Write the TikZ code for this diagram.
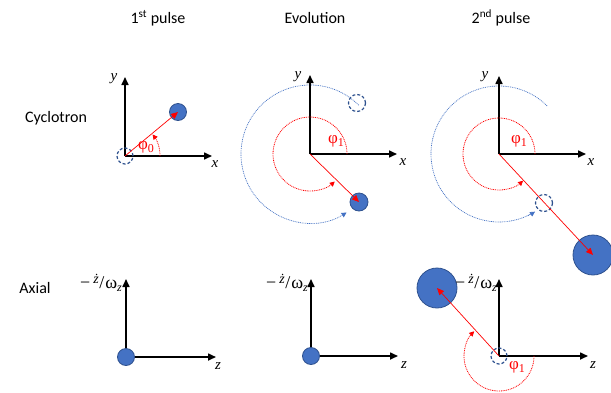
\documentclass[tikz,border=0pt]{standalone}
\usepackage{fontspec}
\setmainfont{Carlito}
\newfontfamily\grk{Liberation Serif}
\usetikzlibrary{arrows.meta}
\definecolor{bfill}{HTML}{4472C4}
\definecolor{bdraw}{HTML}{2F528F}
\definecolor{bdot}{HTML}{4472C4}
\newcommand{\zlab}{{\fontsize{18}{18}\selectfont\grk −\hspace{3pt}\raisebox{5pt}{\fontsize{14}{14}\selectfont\itshape ż}\kern0.5pt/\hspace{1pt}ω\raisebox{-3pt}{\fontsize{12}{12}\selectfont\itshape z}}}
\newcommand{\phisub}[1]{{\fontsize{17}{17}\selectfont\grk φ\raisebox{-3pt}{\fontsize{12}{12}\selectfont #1}}}
\begin{document}
\begin{tikzpicture}[x=1pt,y=1pt,
  axis/.style={line width=1.6pt,-{Triangle[length=8pt,width=7pt]}},
  ball/.style={circle,fill=bfill,draw=bdraw,line width=0.8pt,inner sep=0pt},
  ghost/.style={circle,draw=bdraw,line width=1.2pt,inner sep=0pt,dash pattern=on 3pt off 2pt},
  vec/.style={red,line width=0.7pt,-{Triangle[length=7pt,width=6pt]}},
  rarc/.style={red,line width=0.8pt,dash pattern=on 0.9pt off 0.9pt,-{Triangle[length=5pt,width=5pt]}},
  bdotted/.style={bdot,line width=0.7pt,dash pattern=on 0.9pt off 0.9pt},
  barc/.style={bdotted,-{Triangle[length=5pt,width=5pt]}},
  title/.style={font=\fontsize{16}{18}\selectfont,inner sep=0pt},
  lab/.style={font=\fontsize{15}{15}\selectfont\grk\itshape,inner sep=0pt},
  phil/.style={red,inner sep=0pt},
  zl/.style={inner sep=0pt,anchor=east}
]
\useasboundingbox (0,0) rectangle (611,-392);
\fill[white] (0,0) rectangle (611,-392);

% titles
\node[title] (t1) at (158,-18) {1\textsuperscript{st} pulse};
\node[title] (t2) at (315,-18) {Evolution};
\node[title] (t3) at (501,-18) {2\textsuperscript{nd} pulse};
\node[title] (r1) at (56,-118) {Cyclotron};
\node[title] (r2) at (35,-288) {Axial};

% ---------- cyclotron, 1st pulse
\coordinate (O1) at (125,-156);
\coordinate (Y1) at (125,-77);
\coordinate (X1) at (212,-156);
\draw[axis] (O1) -- (Y1);
\draw[axis] (O1) -- (X1);
\node[lab] (y1) at (114,-79) {y};
\node[lab] (x1) at (215,-164) {x};
\draw[rarc] (O1) ++(0:35) arc[start angle=0,end angle=38,radius=35];
\node[ghost,minimum size=16pt] (G1) at (O1) {};
\node[ball,minimum size=17pt] (P1) at (178,-112) {};
\draw[vec] (O1) -- (P1.center);
\node[phil] (f0) at (146,-147) {\phisub{0}};

% ---------- cyclotron, evolution
\coordinate (O2) at (310,-154);
\coordinate (Y2) at (310,-75);
\coordinate (X2) at (397,-154);
\draw[barc] (O2) ++(45:69) arc[start angle=45,end angle=302,radius=69];
\draw[axis] (O2) -- (Y2);
\draw[axis] (O2) -- (X2);
\node[lab] (y2) at (298,-77) {y};
\node[lab] (x2) at (403,-162) {x};
\draw[rarc] (O2) ++(0:37) arc[start angle=0,end angle=312,radius=37];
\node[ghost,minimum size=17pt] (G2) at (357,-103) {};
\node[ball,minimum size=18pt] (P2) at (359,-202) {};
\draw[vec] (O2) -- (P2.center);
\node[phil] (f1a) at (336,-141) {\phisub{1}};

% ---------- cyclotron, 2nd pulse
\coordinate (O3) at (499,-154);
\coordinate (Y3) at (499,-76);
\coordinate (X3) at (586,-154);
\draw[bdotted] (O3) ++(45:68) arc[start angle=45,end angle=300,radius=68];
\draw[barc] (O3) ++(295:68) arc[start angle=295,end angle=302,radius=68];
\draw[axis] (O3) -- (Y3);
\draw[axis] (O3) -- (X3);
\node[lab] (y3) at (485,-77) {y};
\node[lab] (x3) at (591,-162) {x};
\draw[rarc] (O3) ++(0:36) arc[start angle=0,end angle=312,radius=36];
\node[ghost,minimum size=17pt] (G3) at (544,-203) {};
\node[ball,minimum size=40pt] (P3) at (593,-255) {};
\draw[vec] (O3) -- (P3.center);
\node[phil] (f1b) at (519,-141) {\phisub{1}};

% ---------- axial, 1st pulse
\coordinate (A1) at (126,-357);
\coordinate (AY1) at (126,-279);
\coordinate (AX1) at (216,-357);
\draw[axis] (A1) -- (AY1);
\draw[axis] (A1) -- (AX1);
\node[zl] (zl1) at (122,-283) {\zlab};
\node[lab] (z1) at (218,-366) {z};
\node[ball,minimum size=17pt] (Q1) at (A1) {};

% ---------- axial, evolution
\coordinate (A2) at (311,-356);
\coordinate (AY2) at (311,-279);
\coordinate (AX2) at (398,-356);
\draw[axis] (A2) -- (AY2);
\draw[axis] (A2) -- (AX2);
\node[zl] (zl2) at (308,-283) {\zlab};
\node[lab] (z2) at (404,-365) {z};
\node[ball,minimum size=17pt] (Q2) at (A2) {};

% ---------- axial, 2nd pulse
\coordinate (A3) at (499,-356);
\coordinate (AY3) at (499,-279);
\coordinate (AX3) at (588,-356);
\draw[axis] (A3) -- (AY3);
\draw[axis] (A3) -- (AX3);
\node[lab] (z3) at (593,-365) {z};
\draw[rarc] (A3) ++(0:35) arc[start angle=0,end angle=-225,radius=35];
\node[ghost,minimum size=16pt] (Q3) at (A3) {};
\node[ball,minimum size=40pt] (B3) at (437,-288) {};
\draw[vec] (A3) -- (B3.center);
\node[zl] (zl3) at (497,-283) {\zlab};
\node[phil] (f1c) at (517,-367) {\phisub{1}};
\end{tikzpicture}
\end{document}
